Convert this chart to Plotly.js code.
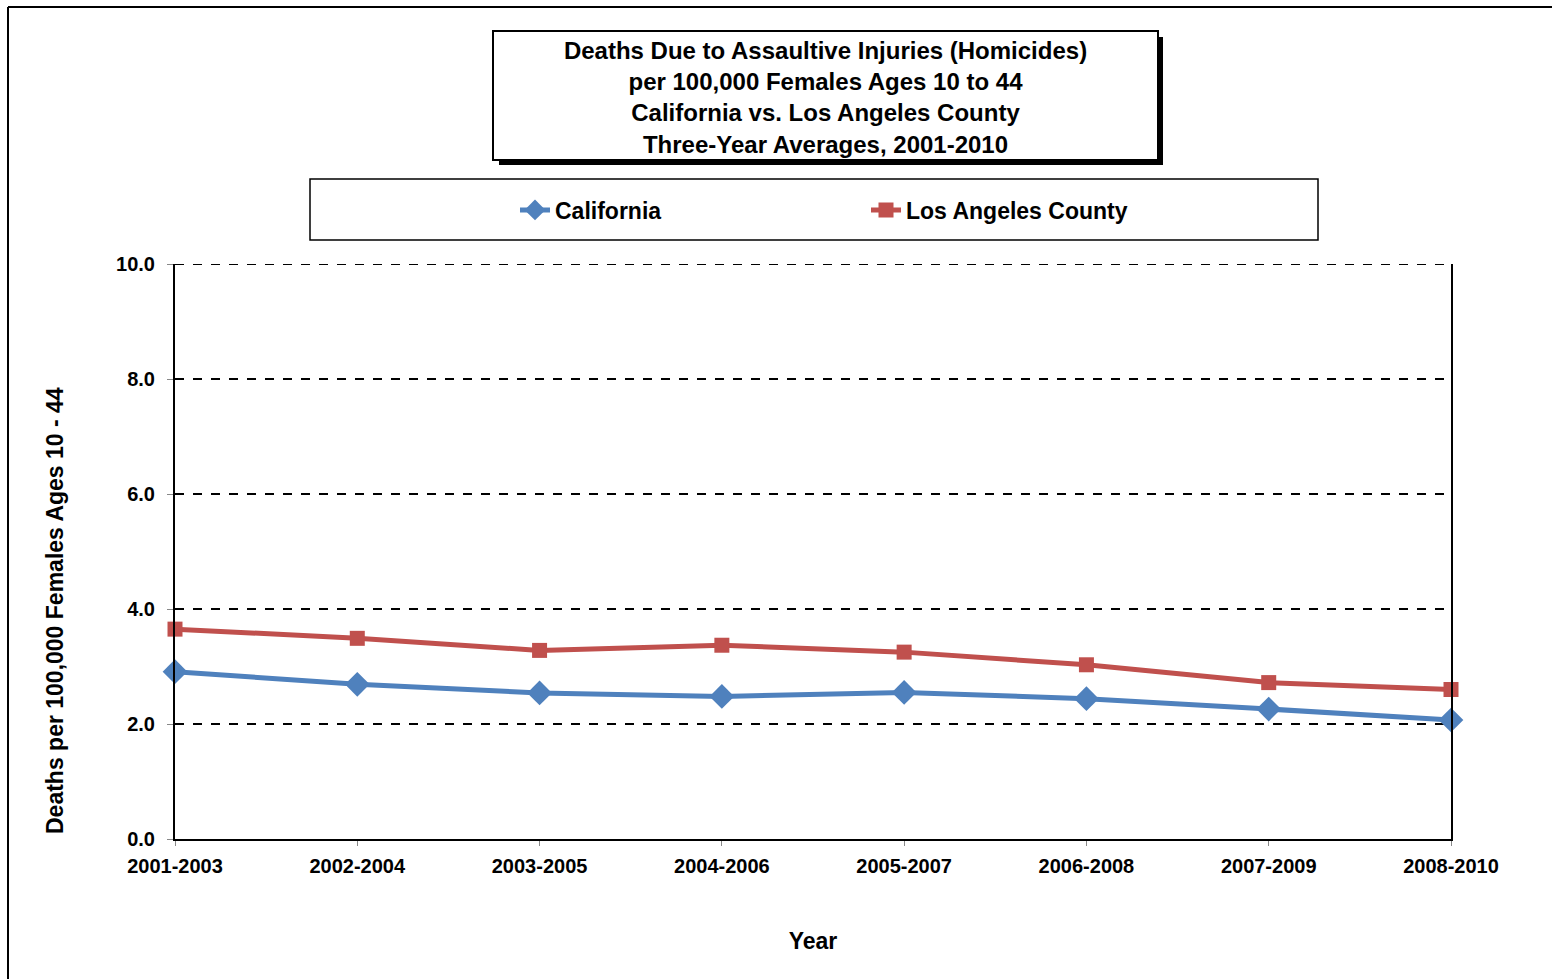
<!DOCTYPE html>
<html>
<head>
<meta charset="utf-8">
<script src="https://cdn.plot.ly/plotly-3.0.1.min.js"></script>
<style>html,body{margin:0;padding:0;background:#fff;}#chart{width:1552px;height:979px;}</style>
</head>
<body>
<div id="chart"></div>
<script>
const periods = ["2001-2003","2002-2004","2003-2005","2004-2006","2005-2007","2006-2008","2007-2009","2008-2010"];
const california = [2.91, 2.69, 2.54, 2.48, 2.55, 2.44, 2.26, 2.07];
const losAngeles = [3.65, 3.49, 3.28, 3.37, 3.25, 3.03, 2.72, 2.60];

const W = 1552, H = 979, L = 175, R = 101, T = 264, B = 140;
const pw = W - L - R, ph = H - T - B;
const px = x => (x - L) / pw;
const py = y => (H - B - y) / ph;
const FONT = "Liberation Sans, Arial, sans-serif";

const traces = [
  {x: periods, y: california, name: "California", type: "scatter", mode: "lines+markers", cliponaxis: false,
   line: {color: "#4F81BD", width: 5}, marker: {symbol: "diamond", size: 19, color: "#4F81BD"}},
  {x: periods, y: losAngeles, name: "Los Angeles County", type: "scatter", mode: "lines+markers", cliponaxis: false,
   line: {color: "#C0504D", width: 5}, marker: {symbol: "square", size: 15, color: "#C0504D"}}
];

const layout = {
  width: W, height: H,
  margin: {l: L, r: R, t: T, b: B},
  paper_bgcolor: "#fff", plot_bgcolor: "#fff",
  font: {family: FONT, color: "#000"},
  showlegend: true,
  title: {
    text: "Deaths Due to Assaultive Injuries (Homicides)<br>per 100,000 Females Ages 10 to 44<br>California vs. Los Angeles County<br>Three-Year Averages, 2001-2010",
    font: {family: FONT, size: 24, color: "#000", weight: "bold"},
    xref: "container", x: 825.5 / W, xanchor: "center",
    yref: "container", y: 1 - 59 / H, yanchor: "middle"
  },
  legend: {
    orientation: "h", x: px(515), xanchor: "left", y: py(210), yanchor: "middle",
    entrywidth: 306, entrywidthmode: "pixels",
    font: {family: FONT, size: 23, color: "#000", weight: "bold"},
    bgcolor: "rgba(0,0,0,0)", borderwidth: 0
  },
  xaxis: {
    type: "category", range: [0, 7],
    showline: true, linecolor: "#000", linewidth: 2, mirror: false,
    showgrid: false, zeroline: false,
    ticks: "outside", ticklen: 5, tickcolor: "#888", tickwidth: 1,
    ticklabelstandoff: 3,
    tickfont: {family: FONT, size: 20, color: "#000", weight: "bold"},
    title: {text: "Year", font: {family: FONT, size: 23, color: "#000", weight: "bold"}, standoff: 57}
  },
  yaxis: {
    range: [0, 10], dtick: 2, tick0: 0, tickformat: ".1f",
    showline: true, linecolor: "#000", linewidth: 2, mirror: true,
    showgrid: true, gridcolor: "#000", gridwidth: 1.5, griddash: "dash",
    zeroline: false,
    ticks: "outside", ticklen: 6, tickcolor: "#888", tickwidth: 1,
    ticklabelstandoff: 8,
    tickfont: {family: FONT, size: 20, color: "#000", weight: "bold"}
  },
  annotations: [
    {text: "Deaths per 100,000 Females Ages 10 - 44", textangle: -90, showarrow: false,
     xref: "paper", yref: "paper", x: px(55), y: py(611), xanchor: "center", yanchor: "middle",
     font: {family: FONT, size: 23, color: "#000", weight: "bold"}}
  ],
  shapes: [
    // outer frame (left and top edges)
    {type: "line", xref: "paper", yref: "paper", x0: px(8), x1: px(8), y0: py(7), y1: py(990), line: {color: "#000", width: 2}},
    {type: "line", xref: "paper", yref: "paper", x0: px(8), x1: px(1560), y0: py(7), y1: py(7), line: {color: "#000", width: 2}},
    // top gridline at the range edge
    {type: "line", xref: "paper", yref: "y", x0: 0, x1: 1, y0: 10, y1: 10, line: {color: "#000", width: 2, dash: "dash"}},
    // title box shadow and box
    {type: "rect", xref: "paper", yref: "paper", x0: px(499), x1: px(1163), y0: py(37), y1: py(165), fillcolor: "#000", line: {width: 0}},
    {type: "rect", xref: "paper", yref: "paper", x0: px(493), x1: px(1158), y0: py(31), y1: py(160), fillcolor: "#fff", line: {color: "#000", width: 2}},
    // legend box
    {type: "rect", xref: "paper", yref: "paper", x0: px(310), x1: px(1318), y0: py(179), y1: py(240), fillcolor: "rgba(0,0,0,0)", line: {color: "#000", width: 1.5}}
  ]
};

Plotly.newPlot("chart", traces, layout, {displayModeBar: false, staticPlot: true});
</script>
</body>
</html>
